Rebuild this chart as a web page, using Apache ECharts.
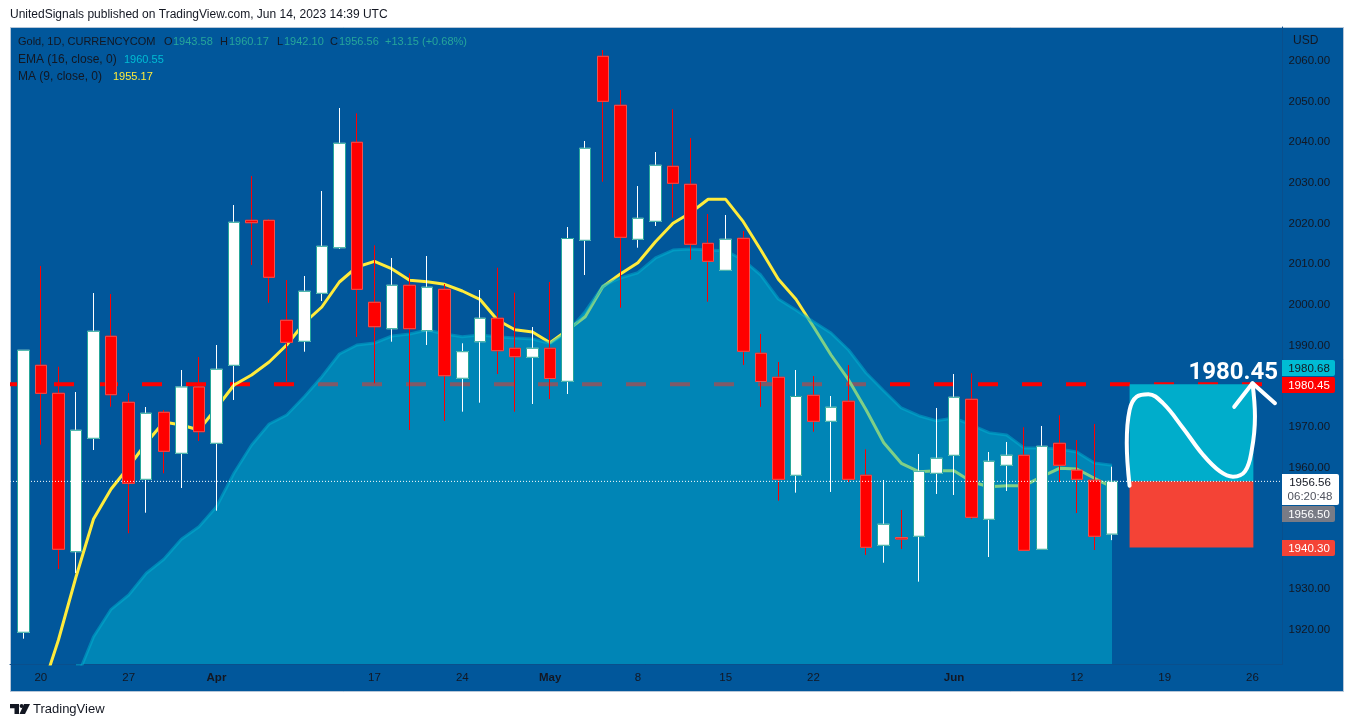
<!DOCTYPE html>
<html><head><meta charset="utf-8">
<style>html,body{margin:0;padding:0;background:#fff}#c{width:1354px;height:727px}</style>
<script src="https://cdn.jsdelivr.net/npm/echarts@6/dist/echarts.min.js"></script>
</head><body><div id="c"></div>
<script>
const opens=[1919.43,1985.12,1978.23,1939.26,1967.16,1992.26,1976.02,1957.07,1973.56,1963.47,1979.78,1965.93,1985.12,2020.8,2020.8,1996.2,1991.03,2002.84,2014.06,2040,2000.63,1994.13,2004.81,1993.64,2003.82,1981.93,1990.93,1996.69,1989.31,1987.09,1989.31,1981.19,2015.88,2061.16,2049.1,2016.13,2020.56,2034.09,2029.66,2015.14,2008.5,2016.37,1988.08,1982.17,1958.06,1977.74,1971.34,1976.27,1958.06,1940.83,1942.75,1943.05,1958.55,1962.98,1976.76,1947.23,1960.52,1962.98,1939.85,1965.93,1959.29,1956.83,1943.58];
const closes=[1988.82,1978.23,1939.85,1969.13,1993.49,1977.89,1956.09,1973.31,1963.96,1979.78,1968.79,1984.14,2020.31,2020.21,2006.78,1990.78,2003.33,2014.4,2039.75,2003.82,1994.62,2004.81,1994.13,2004.32,1982.56,1988.47,1996.69,1988.72,1987.24,1989.31,1981.88,2016.32,2038.52,2050.08,2016.62,2021.29,2034.34,2029.91,2014.9,2010.71,2016.13,1988.57,1981.14,1957.07,1977.45,1971.34,1974.79,1957.07,1940.34,1946.0,1942.38,1959.04,1962.24,1977.25,1947.72,1961.5,1962.98,1939.6,1965.19,1960.52,1957.07,1943.05,1956.56];
const lows=[1917.85,1965.59,1935.0,1934.02,1964.28,1974.94,1943.79,1948.85,1958.55,1954.93,1966.5,1949.35,1976.59,2009.8,2000.53,1981.14,1988.47,2000.95,2013.74,1992.09,1980.7,1990.93,1969.2,1990.12,1971.42,1973.71,1975.92,1982.98,1973.71,1975.6,1976.83,1978.06,2007.34,2030.3,1999.3,2014.06,2019.4,2021.44,2011.11,2000.77,2008.4,1985.2,1974.91,1951.81,1953.78,1968.79,1953.95,1956.41,1938.45,1936.55,1939.92,1931.88,1953.46,1953.21,1947.3,1937.95,1954.19,1939.5,1939.8,1956.41,1948.78,1939.68,1942.1];
const highs=[1988.82,2009.56,1984.78,1978.55,2002.91,2002.67,1978.31,1974.86,1974.13,1983.97,1987.17,1990.12,2024.57,2031.7,2021.05,2006.11,2007.1,2028.01,2048.44,2047.13,2014.65,2011.53,2007.76,2012.02,2005.13,1990.54,2003.65,2009.14,2002.99,1994.55,2005.62,2019.15,2040.32,2062.71,2052.86,2029.24,2037.61,2048.12,2041.05,2022.35,2022.11,2018.17,1992.83,1985.94,1983.97,1982.49,1977.57,1985.2,1964.45,1956.9,1949.52,1963.3,1974.62,1982.98,1983.15,1963.79,1966.25,1969.87,1970.19,1972.82,1966.74,1970.68,1960.17];
const maStart=1;
const ma9=[1904.24,1917.53,1933.03,1947.3,1954.69,1960.1,1966,1971.17,1970.43,1969.2,1974.62,1980.28,1982.74,1985.94,1990.12,1995.53,1999.47,2005.62,2009.31,2010.71,2008.82,2006.04,2005.69,2005.05,2003.41,2001.36,1996.27,1993.88,1993.32,1990.69,1993.81,1997.08,2004.46,2007.59,2010.37,2015.54,2020.06,2022.67,2025.97,2025.97,2020.46,2013.49,2006.29,2001.36,1994.62,1987.66,1981.51,1974.13,1966.08,1961.01,1958.94,1959.19,1959.19,1956.48,1955.25,1955.5,1955.5,1957.71,1959.78,1959.61,1957.32,1955.17];
const emaStart=3;
const ema16=[1907.69,1918.34,1925.08,1928.6,1933.94,1937.39,1942.31,1945.41,1950.33,1958.62,1965.51,1970.68,1972.89,1977.4,1982.32,1987.9,1990.12,1990.61,1992.33,1992.83,1993.81,1992.83,1992.16,1992.58,1992.16,1991.84,1991.6,1990.49,1993.32,1998.31,2004.64,2006.61,2007.91,2011.53,2013.49,2013.74,2013.49,2013.32,2011.03,2007.34,2001.44,1998.73,1995.85,1993.07,1988.89,1983.23,1978.87,1974.62,1972.72,1971.49,1972.16,1970.43,1968.54,1967.97,1964.78,1964.78,1964.53,1963.79,1961.08,1960.55];
const priceTicks=[2060,2050,2040,2030,2020,2010,2000,1990,1970,1960,1930,1920];
const dateTicks=[[1,'20'],[6,'27'],[11,'Apr'],[20,'17'],[25,'24'],[30,'May'],[35,'8'],[40,'15'],[45,'22'],[53,'Jun'],[60,'12'],[65,'19'],[70,'26']];
const levelPrice=1980.45, lastPrice=1956.56, stopPrice=1940.30;
const boxFrom=63, boxTo=70.05, levelEnd=70.54;
const pathPts=[[63,1955.5],[62.84,1966.0],[63,1974.1],[63.41,1977.4],[64.07,1978.0],[64.9,1975.8],[66.04,1969.7],[67.18,1963.1],[68.15,1959.0],[68.89,1957.7],[69.57,1959.0],[69.96,1964.3],[70.14,1972.5],[70.0,1980.7]];
const arrowPts=[[68.96,1974.9],[70.0,1980.7],[71.28,1975.8]];
const badges=[['1980.68',360,'#00bcd4','#131722',53],['1980.45',377,'#ff0000','#ffffff',53],['1956.50',506,'#787b86','#ffffff',53],['1940.30',540,'#f44336','#ffffff',53]];

const FONT='"Liberation Sans", Arial, sans-serif', INK='#131722';
const xMin=-0.757, xMax=71.68, yMin=1911.62, yMax=2068.37;
const idx=opens.map((_,i)=>i);
const wickData=idx.map(i=>[i,opens[i],closes[i],lows[i],highs[i]]);
const boxData=idx.map(i=>[i,opens[i],closes[i],Math.min(opens[i],closes[i]),Math.max(opens[i],closes[i])]);
const tickMap=Object.fromEntries(dateTicks);
const txt=(x,y,t,c,o)=>({type:'text',x,y,z:50,silent:true,style:Object.assign({text:t,fill:c,font:'11px '+FONT,textVerticalAlign:'middle'},o||{})});
const badge=b=>({type:'group',x:1282,y:b[1],z:50,silent:true,children:[
  {type:'rect',z:50,shape:{x:0,y:0,width:b[4],height:16,r:[0,2,2,0]},style:{fill:b[2]}},
  {type:'text',z:51,x:b[4]/2+0.5,y:8.5,style:{text:b[0],fill:b[3],font:'11.5px '+FONT,textAlign:'center',textVerticalAlign:'middle'}}]});
const graphic=[
 {type:'rect',z:-10,silent:true,shape:{x:10.5,y:27.5,width:1333,height:664},style:{fill:'#01579b',stroke:'#b6c6d8',lineWidth:1}},
 txt(10,15,'UnitedSignals published on TradingView.com, Jun 14, 2023 14:39 UTC',INK,{font:'12px '+FONT}),
 txt(18,42,'Gold, 1D, CURRENCYCOM',INK),
 txt(164,42,'O',INK),txt(173,42,'1943.58','#26a69a'),
 txt(220,42,'H',INK),txt(229,42,'1960.17','#26a69a'),
 txt(277,42,'L',INK),txt(284,42,'1942.10','#26a69a'),
 txt(330,42,'C',INK),txt(339,42,'1956.56','#26a69a'),
 txt(385,42,'+13.15 (+0.68%)','#26a69a'),
 txt(18,60,'EMA (16, close, 0)',INK,{font:'12px '+FONT}),txt(124,60,'1960.55','#00bcd4'),
 txt(18,77,'MA (9, close, 0)',INK,{font:'12px '+FONT}),txt(113,77,'1955.17','#ffeb3b'),
 txt(1293,41,'USD',INK,{font:'12px '+FONT}),
 {type:'text',x:1278,y:372.5,z:50,silent:true,style:{text:'1980.45',fill:'#fff',font:'bold 24px Roboto',textAlign:'right',textVerticalAlign:'middle'}},
 ...badges.map(badge),
 {type:'group',x:1282,y:474,z:50,silent:true,children:[
   {type:'rect',z:50,shape:{x:0,y:0,width:57,height:31,r:[0,2,2,0]},style:{fill:'#fff'}},
   {type:'text',z:51,x:28,y:9,style:{text:'1956.56',fill:INK,font:'11.5px '+FONT,textAlign:'center',textVerticalAlign:'middle'}},
   {type:'text',z:51,x:28,y:23,style:{text:'06:20:48',fill:'#50535e',font:'11.5px '+FONT,textAlign:'center',textVerticalAlign:'middle'}}]},
 {type:'polygon',z:50,silent:true,shape:{points:[[10,704],[19,704],[19,714],[14.5,714],[14.5,708.2],[10,708.2]]},style:{fill:INK}},
 {type:'polygon',z:50,silent:true,shape:{points:[[24,704],[30,704],[25,714],[19.5,714]]},style:{fill:INK}},
 {type:'circle',z:50,silent:true,shape:{cx:21.6,cy:706,r:2},style:{fill:INK}},
 txt(33,709.5,'TradingView',INK,{font:'13px '+FONT})
];
const flat=(name,data,z,style,extra)=>Object.assign({name,type:'line',data,z,silent:true,symbol:'none',animation:false,lineStyle:style},extra||{});
const option={
 animation:false,
 grid:{left:10,top:27,width:1272,height:637,containLabel:false},
 xAxis:{type:'value',min:xMin,max:xMax,splitLine:{show:false},axisTick:{show:false},
   axisLine:{show:true,onZero:false,lineStyle:{color:'#0a4f8c',width:1}},
   axisLabel:{customValues:dateTicks.map(d=>d[0]),margin:8,color:INK,fontFamily:FONT,fontSize:11.5,
     formatter:v=>{const s=tickMap[v]||'';return /[A-Za-z]/.test(s)?'{b|'+s+'}':s;},
     rich:{b:{fontWeight:'bold',color:INK,fontFamily:FONT,fontSize:11.5}}}},
 yAxis:{type:'value',position:'right',min:yMin,max:yMax,scale:true,splitLine:{show:false},axisTick:{show:false},
   axisLine:{show:true,onZero:false,lineStyle:{color:'#0a4f8c',width:1}},
   axisLabel:{customValues:priceTicks,margin:6.5,color:INK,fontFamily:FONT,fontSize:11.5,padding:[4,0,0,0],formatter:v=>v.toFixed(2)}},
 graphic,
 series:[
  flat('Level',[[xMin,levelPrice],[levelEnd,levelPrice]],1,{color:'#ff0000',width:4,type:[20,24]}),
  flat('MA 9',ma9.map((v,i)=>[i+maStart,v]),2,{color:'#ffeb3b',width:3}),
  flat('EMA 16',ema16.map((v,i)=>[i+emaStart,v]),3,{color:'#00b4d2',width:3,opacity:.5},{areaStyle:{color:'#00b4d2',opacity:.5,origin:'start'}}),
  {name:'Gold wicks',type:'candlestick',z:4,silent:true,animation:false,barWidth:12,encode:{x:0,y:[1,2,3,4]},data:wickData,
   itemStyle:{color:'#ffffff',color0:'#ff0000',borderColor:'#ffffff',borderColor0:'#ff0000',borderWidth:1}},
  {name:'Gold bodies',type:'candlestick',z:5,silent:true,animation:false,barWidth:12,encode:{x:0,y:[1,2,3,4]},data:boxData,
   itemStyle:{color:'#ffffff',color0:'#ff0000',borderColor:'#26a69a',borderColor0:'#ef5350',borderWidth:1}},
  flat('Zones',[],6,{opacity:0},{markArea:{silent:true,z:6,data:[
     [{xAxis:boxFrom,yAxis:levelPrice,itemStyle:{color:'#00adcb',opacity:1}},{xAxis:boxTo,yAxis:lastPrice}],
     [{xAxis:boxFrom,yAxis:lastPrice,itemStyle:{color:'#f44336',opacity:1}},{xAxis:boxTo,yAxis:stopPrice}]]}}),
  flat('Last',[[xMin,lastPrice],[xMax,lastPrice]],7,{color:'#ffffff',width:1,type:[1,2]}),
  flat('Path',pathPts,8,{color:'#ffffff',width:4,cap:'round'},{smooth:0.4}),
  flat('Arrow',arrowPts,8,{color:'#ffffff',width:4,cap:'round',join:'round'})
 ]
};
const chart=echarts.init(document.getElementById('c'),null,{renderer:'canvas',width:1354,height:727});
chart.setOption(option);
</script></body></html>
